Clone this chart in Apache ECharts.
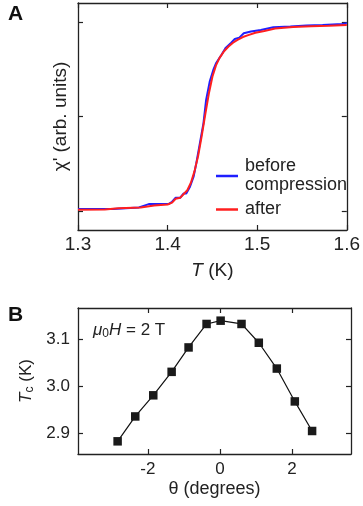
<!DOCTYPE html>
<html><head><meta charset="utf-8">
<script src="https://cdn.jsdelivr.net/npm/echarts@6/dist/echarts.min.js"></script>
<style>html,body{margin:0;padding:0;background:#fff}#c{width:363px;height:506px}</style>
</head><body><div id="c"></div>
<script>
// Panel A: AC susceptibility vs temperature
const tempBefore = [1.300,1.339,1.341,1.368,1.379,1.401,1.405,1.409,1.414,1.418,1.421,1.425,1.429,1.432,1.436,1.440,1.443,1.447,1.451,1.454,1.460,1.465,1.471,1.475,1.480,1.485,1.493,1.504,1.518,1.537,1.555,1.573,1.595,1.600];
const chiBefore  = [0.021,0.021,0.039,0.039,0.074,0.074,0.099,0.141,0.141,0.187,0.187,0.257,0.363,0.504,0.716,0.928,1.175,1.369,1.492,1.563,1.651,1.728,1.781,1.820,1.834,1.880,1.898,1.915,1.944,1.951,1.961,1.968,1.979,1.986];
const tempAfter  = [1.300,1.330,1.345,1.370,1.385,1.400,1.405,1.409,1.414,1.418,1.422,1.426,1.430,1.434,1.438,1.442,1.446,1.450,1.454,1.458,1.463,1.468,1.473,1.478,1.484,1.490,1.498,1.508,1.520,1.540,1.560,1.580,1.600];
const chiAfter   = [0.015,0.018,0.030,0.038,0.060,0.070,0.090,0.130,0.140,0.180,0.220,0.300,0.420,0.580,0.790,1.020,1.240,1.420,1.540,1.620,1.690,1.740,1.780,1.810,1.840,1.860,1.885,1.905,1.930,1.945,1.955,1.960,1.968];
const xTicksA = [1.3,1.4,1.5,1.6];
const yTicksA = [0,1,2];
const seriesNamesA = ['before\ncompression','after'];

// Panel B: Tc vs angle
const theta = [-2.84,-2.35,-1.85,-1.34,-0.87,-0.37,0.02,0.60,1.08,1.58,2.08,2.56];
const tc    = [2.882,2.935,2.980,3.030,3.082,3.132,3.139,3.132,3.092,3.037,2.967,2.904];
const xTicksB = [-2,0,2];
const yTicksB = [2.9,3.0,3.1];

const FONT = '"Liberation Sans", Arial, Helvetica, sans-serif';
const INK = '#222';
const axLine = {show:true, onZero:false, lineStyle:{color:INK, width:1.3}};
const FA = 19, FB = 17;

function pair(xs, ys){ return xs.map((x,i)=>[x, ys[i]]); }
function ticks(vals){ return {show:true, inside:true, length:5, customValues:vals, lineStyle:{color:INK, width:1.2}}; }
function baseAxis(extra){
  return Object.assign({type:'value', axisLine:axLine, splitLine:{show:false}}, extra);
}

const chart = echarts.init(document.getElementById('c'), null, {renderer:'canvas'});
chart.setOption({
  animation:false,
  textStyle:{fontFamily:FONT, color:INK},
  grid:[
    {left:78, right:12, top:3, height:227},
    {left:78, right:12, top:308, height:146}
  ],
  xAxis:[
    baseAxis({gridIndex:0, min:1.3, max:1.6, position:'bottom', axisTick:ticks(xTicksA),
      axisLabel:{customValues:xTicksA, fontSize:FA, color:INK, margin:5, fontFamily:FONT, formatter:v=>v.toFixed(1)},
      name:'{i|T} (K)', nameLocation:'middle', nameGap:31,
      nameTextStyle:{fontSize:FA, color:INK, fontFamily:FONT, rich:{i:{fontStyle:'italic', fontSize:FA, fontFamily:FONT, color:INK}}}
    }),
    baseAxis({gridIndex:0, min:1.3, max:1.6, position:'top', axisTick:ticks(xTicksA), axisLabel:{show:false}}),
    baseAxis({gridIndex:1, min:-3.94, max:3.64, position:'bottom', axisTick:ticks(xTicksB),
      axisLabel:{customValues:xTicksB, fontSize:FB, color:INK, margin:7, fontFamily:FONT},
      name:'θ (degrees)', nameLocation:'middle', nameGap:26,
      nameTextStyle:{fontSize:FB+1, color:INK, fontFamily:FONT}
    }),
    baseAxis({gridIndex:1, min:-3.94, max:3.64, position:'top', axisTick:ticks(xTicksB), axisLabel:{show:false}})
  ],
  yAxis:[
    baseAxis({gridIndex:0, min:-0.2, max:2.2, position:'left', axisTick:ticks(yTicksA), axisLabel:{show:false},
      name:"χ' (arb. units)", nameLocation:'middle', nameGap:8,
      nameTextStyle:{fontSize:FA, color:INK, fontFamily:FONT}
    }),
    baseAxis({gridIndex:0, min:-0.2, max:2.2, position:'right', axisTick:ticks(yTicksA), axisLabel:{show:false}}),
    baseAxis({gridIndex:1, min:2.855, max:3.166, position:'left', axisTick:ticks(yTicksB),
      axisLabel:{customValues:yTicksB, fontSize:FB, color:INK, margin:8, fontFamily:FONT, formatter:v=>v.toFixed(1)},
      name:'{i|T}{s|c} (K)', nameLocation:'middle', nameGap:34,
      nameTextStyle:{fontSize:FB, color:INK, fontFamily:FONT,
        rich:{i:{fontStyle:'italic', fontSize:FB, fontFamily:FONT, color:INK},
              s:{fontSize:12, fontFamily:FONT, color:INK, verticalAlign:'bottom', padding:[6,0,0,0]}}}
    }),
    baseAxis({gridIndex:1, min:2.855, max:3.166, position:'right', axisTick:ticks(yTicksB), axisLabel:{show:false}})
  ],
  legend:{
    orient:'vertical', left:211, top:152, itemWidth:22, itemHeight:2.5, itemGap:5,
    icon:'rect', data:seriesNamesA,
    textStyle:{fontSize:18, color:INK, fontFamily:FONT, lineHeight:19, padding:[0,0,0,2]}
  },
  series:[
    {name:seriesNamesA[0], type:'line', xAxisIndex:0, yAxisIndex:0, data:pair(tempBefore, chiBefore),
      showSymbol:false, lineStyle:{color:'#1f1fff', width:2}, itemStyle:{color:'#1f1fff'}, z:2},
    {name:seriesNamesA[1], type:'line', xAxisIndex:0, yAxisIndex:0, data:pair(tempAfter, chiAfter),
      showSymbol:false, lineStyle:{color:'#ff1f1f', width:2}, itemStyle:{color:'#ff1f1f'}, z:3},
    {name:'Tc', type:'line', xAxisIndex:2, yAxisIndex:2, data:pair(theta, tc),
      symbol:'rect', symbolSize:8.5, lineStyle:{color:'#111', width:1.2}, itemStyle:{color:'#1a1a1a'}}
  ],
  graphic:[
    {type:'text', left:8, top:4, style:{text:'A', font:'bold 21px '+FONT, fill:'#111'}},
    {type:'text', left:8, top:305, style:{text:'B', font:'bold 21px '+FONT, fill:'#111'}},
    {type:'text', left:93, top:322, style:{
      text:'{i|μ}{s|0}{i|H} = 2 T', font:'17px '+FONT, fill:INK,
      rich:{i:{fontStyle:'italic', fontSize:17, fontFamily:FONT, fill:INK},
            s:{fontSize:12, fontFamily:FONT, fill:INK, verticalAlign:'bottom', padding:[7,0,0,0]}}}}
  ]
});
</script>
</body></html>
